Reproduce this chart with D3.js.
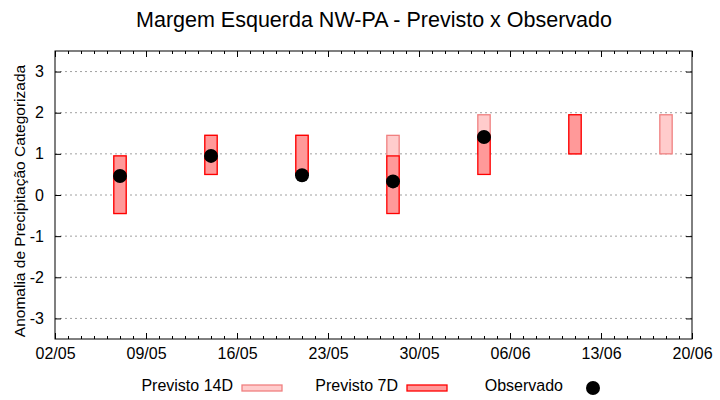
<!DOCTYPE html>
<html>
<head>
<meta charset="utf-8">
<script src="https://cdn.jsdelivr.net/npm/d3@7"></script>
<style>
  body { margin: 0; background: #fff; }
  text { font-family: "Liberation Sans", Arial, sans-serif; }
</style>
</head>
<body>
<div class="js-chart"></div>
<script>
'use strict';

// weekly forecast / observation dates (dd/mm)
const weeks = ['07/05', '14/05', '21/05', '28/05', '04/06', '11/06', '18/06'];

// forecast ranges (low / high) for each week, null where missing
const prev14Lo = [-0.45, 0.5, 0.5, 0.5, 1.0, 1.0, 1.0];
const prev14Hi = [0.95, 1.45, 1.45, 1.45, 1.95, 1.95, 1.95];
const prev7Lo = [-0.45, 0.5, 0.5, -0.45, 0.5, 1.0, null];
const prev7Hi = [0.95, 1.45, 1.45, 0.95, 1.45, 1.95, null];
const observed = [0.46, 0.95, 0.48, 0.33, 1.41, null, null];

const xTickLabels = ['02/05', '09/05', '16/05', '23/05', '30/05', '06/06', '13/06', '20/06'];
const yTicks = [-3, -2, -1, 0, 1, 2, 3];

const YEAR = 2023;
const parseDay = function(s) {
	const p = s.split('/');
	return new Date(YEAR, +p[1] - 1, +p[0]);
};

function drawChart() {

	const svgWidth = 720;
	const svgHeight = 400;
	const left = 55, right = 692, top = 51, bottom = 339;
	const halfBox = 0.475 * 864e5; // box half width in ms

	const xTicks = xTickLabels.map(parseDay);

	const xScale = d3.scaleTime()
		.domain([xTicks[0], xTicks[xTicks.length - 1]])
		.range([left, right]);

	const yScale = d3.scaleLinear()
		.domain([-3.5, 3.5])
		.range([bottom, top]);

	const svg = d3.select('.js-chart')
		.append('svg')
		.attr('width', svgWidth)
		.attr('height', svgHeight);

	// title
	svg.append('text')
		.attr('x', 374)
		.attr('y', 21)
		.attr('text-anchor', 'middle')
		.attr('dominant-baseline', 'middle')
		.attr('font-size', 21.5)
		.text('Margem Esquerda NW-PA - Previsto x Observado');

	// horizontal grid
	svg.append('g')
		.selectAll('line')
		.data(yTicks)
		.enter()
		.append('line')
		.attr('x1', left)
		.attr('x2', right)
		.attr('y1', d => yScale(d))
		.attr('y2', d => yScale(d))
		.attr('stroke', '#a0a0a0')
		.attr('stroke-dasharray', '2,3');

	const rows = weeks.map(function(w, i) {
		return {
			date: parseDay(w),
			lo14: prev14Lo[i], hi14: prev14Hi[i],
			lo7: prev7Lo[i], hi7: prev7Hi[i],
			obs: observed[i]
		};
	});

	const boxX = d => xScale(new Date(d.date.getTime() - halfBox));
	const boxW = d => xScale(new Date(d.date.getTime() + halfBox)) - boxX(d);

	// 14 day forecast boxes
	svg.append('g')
		.selectAll('rect')
		.data(rows.filter(d => d.lo14 != null))
		.enter()
		.append('rect')
		.attr('x', boxX)
		.attr('width', boxW)
		.attr('y', d => yScale(d.hi14))
		.attr('height', d => yScale(d.lo14) - yScale(d.hi14))
		.attr('fill', '#ffcccc')
		.attr('stroke', '#f08080')
		.attr('stroke-width', 1.3);

	// 7 day forecast boxes
	svg.append('g')
		.selectAll('rect')
		.data(rows.filter(d => d.lo7 != null))
		.enter()
		.append('rect')
		.attr('x', boxX)
		.attr('width', boxW)
		.attr('y', d => yScale(d.hi7))
		.attr('height', d => yScale(d.lo7) - yScale(d.hi7))
		.attr('fill', '#ff9999')
		.attr('stroke', '#ff0000')
		.attr('stroke-width', 1.3);

	// observed points
	svg.append('g')
		.selectAll('circle')
		.data(rows.filter(d => d.obs != null))
		.enter()
		.append('circle')
		.attr('cx', d => xScale(d.date))
		.attr('cy', d => yScale(d.obs))
		.attr('r', 7)
		.attr('fill', '#000');

	// axes
	const days = d3.timeDay.range(xTicks[0], d3.timeDay.offset(xTicks[xTicks.length - 1], 1));

	svg.append('g')
		.attr('transform', `translate(0,${bottom})`)
		.call(d3.axisBottom(xScale).tickValues(days).tickSize(-3).tickFormat(''))
		.call(g => g.select('.domain').remove());
	svg.append('g')
		.attr('transform', `translate(0,${top})`)
		.call(d3.axisTop(xScale).tickValues(days).tickSize(-3).tickFormat(''))
		.call(g => g.select('.domain').remove());

	svg.append('g')
		.attr('class', 'x-axis')
		.attr('transform', `translate(0,${bottom})`)
		.call(d3.axisBottom(xScale).tickValues(xTicks).tickSizeInner(-6).tickSizeOuter(0)
			.tickPadding(9).tickFormat(d3.timeFormat('%d/%m')))
		.call(g => g.select('.domain').remove());
	svg.append('g')
		.attr('transform', `translate(0,${top})`)
		.call(d3.axisTop(xScale).tickValues(xTicks).tickSizeInner(-6).tickSizeOuter(0).tickFormat(''))
		.call(g => g.select('.domain').remove());

	svg.append('g')
		.attr('transform', `translate(${left},0)`)
		.call(d3.axisLeft(yScale).tickValues(yTicks).tickSizeInner(-6).tickSizeOuter(0)
			.tickPadding(11).tickFormat(d => String(d)))
		.call(g => g.select('.domain').remove());
	svg.append('g')
		.attr('transform', `translate(${right},0)`)
		.call(d3.axisRight(yScale).tickValues(yTicks).tickSizeInner(-6).tickSizeOuter(0).tickFormat(''))
		.call(g => g.select('.domain').remove());

	svg.selectAll('.tick text')
		.attr('font-family', '"Liberation Sans", Arial, sans-serif')
		.attr('font-size', 16)
		.attr('fill', '#000');
	svg.selectAll('.tick line').attr('stroke', '#000');

	// frame
	svg.append('rect')
		.attr('x', left)
		.attr('y', top)
		.attr('width', right - left)
		.attr('height', bottom - top)
		.attr('fill', 'none')
		.attr('stroke', '#000');

	// y label
	svg.append('text')
		.attr('transform', 'translate(21,201) rotate(-90)')
		.attr('text-anchor', 'middle')
		.attr('dominant-baseline', 'middle')
		.attr('font-size', 15.5)
		.text('Anomalia de Precipitação Categorizada');

	// legend
	const legend = svg.append('g');
	const legendItems = [
		{ label: 'Previsto 14D', tx: 233, sx: 242, fill: '#ffcccc', stroke: '#f08080' },
		{ label: 'Previsto 7D', tx: 398, sx: 407, fill: '#ff9999', stroke: '#ff0000' }
	];
	legendItems.forEach(function(it) {
		legend.append('text')
			.attr('x', it.tx)
			.attr('y', 391)
			.attr('text-anchor', 'end')
			.attr('font-size', 16)
			.text(it.label);
		legend.append('rect')
			.attr('x', it.sx)
			.attr('y', 385)
			.attr('width', 40)
			.attr('height', 6)
			.attr('fill', it.fill)
			.attr('stroke', it.stroke)
			.attr('stroke-width', 1.3);
	});
	legend.append('text')
		.attr('x', 563)
		.attr('y', 391)
		.attr('text-anchor', 'end')
		.attr('font-size', 16)
		.text('Observado');
	legend.append('circle')
		.attr('cx', 593)
		.attr('cy', 388)
		.attr('r', 7)
		.attr('fill', '#000');
}

drawChart();
</script>
</body>
</html>
